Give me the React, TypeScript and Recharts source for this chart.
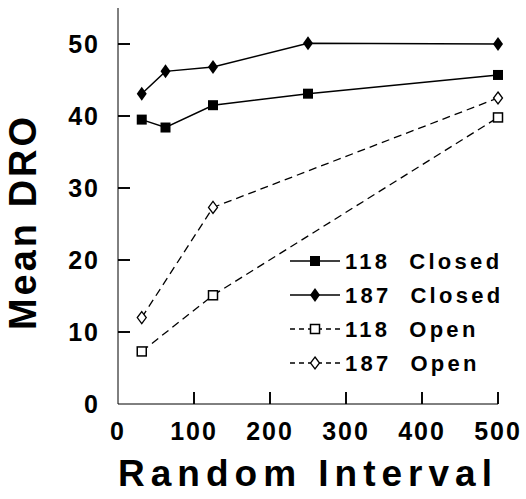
import React from "react"
import { Line, LineChart, ReferenceLine, XAxis, YAxis } from "recharts"

const intervals = [31.25, 62.5, 125, 250, 500]
const openIntervals = [31.25, 125, 500]
const closed118 = [39.5, 38.4, 41.5, 43.1, 45.7]
const closed187 = [43.1, 46.2, 46.8, 50.1, 50.0]
const open118 = [7.3, 15.1, 39.8]
const open187 = [12.0, 27.3, 42.5]
const xTicks = [0, 100, 200, 300, 400, 500]
const yTicks = [0, 10, 20, 30, 40, 50]

const toPoints = (xs: number[], ys: number[]) => xs.map((x, i) => ({ x, y: ys[i] }))

const font = "'Liberation Sans', Arial, sans-serif"
const TICK_GAP = 18
const TICK_LEN = 12
// same inward ticks in data units, as a fallback
const X_TICK_LEN = 1.66
const Y_TICK_LEN = 15.8

function Marker({ cx, cy, kind }: { cx: number; cy: number; kind: string }) {
  if (kind === "fsq") return <rect x={cx - 5} y={cy - 5} width={10} height={10} fill="#000" />
  if (kind === "osq") return <rect x={cx - 4.5} y={cy - 4.5} width={9} height={9} fill="#fff" stroke="#000" strokeWidth={1.5} />
  if (kind === "fdi") return <path d={`M${cx},${cy - 7}L${cx + 5},${cy}L${cx},${cy + 7}L${cx - 5},${cy}Z`} fill="#000" />
  return <path d={`M${cx},${cy - 6}L${cx + 4.5},${cy}L${cx},${cy + 6}L${cx - 4.5},${cy}Z`} fill="#fff" stroke="#000" strokeWidth={1.3} />
}

const dotOf = (kind: string) => (p: any) => <Marker key={`${kind}-${p.index}`} cx={p.cx} cy={p.cy} kind={kind} />

const legendItems = [
  { label: "118  Closed", kind: "fsq", dash: undefined },
  { label: "187  Closed", kind: "fdi", dash: undefined },
  { label: "118  Open", kind: "osq", dash: "5 4" },
  { label: "187  Open", kind: "odi", dash: "5 4" },
]

const titleStyle = { fontFamily: font, fontWeight: "bold" as const, fill: "#000" }

function Overlay() {
  return (
    <svg width={526} height={499} style={{ position: "absolute", left: 0, top: 0, pointerEvents: "none" }}>
      <text x={308} y={486} textAnchor="middle" fontSize={37} letterSpacing={6} {...titleStyle}>
        Random Interval
      </text>
      <text x={23} y={222} transform="rotate(-90 23 222)" textAnchor="middle" dominantBaseline="central" fontSize={38} letterSpacing={3} {...titleStyle}>
        Mean DRO
      </text>
      {legendItems.map((it, i) => {
        const cy = 261 + i * 34
        return (
          <g key={it.label}>
            <line x1={290} x2={340} y1={cy} y2={cy} stroke="#000" strokeWidth={1.5} strokeDasharray={it.dash} />
            <Marker cx={315} cy={cy} kind={it.kind} />
            <text x={345} y={cy + 8} fontSize={22} letterSpacing={3.3} style={{ whiteSpace: "pre" }} {...titleStyle}>
              {it.label}
            </text>
          </g>
        )
      })}
    </svg>
  )
}

const tickText = { fontFamily: font, fontWeight: "bold" as const, fontSize: 25, fill: "#000", letterSpacing: 2 }

function XTick(props: any) {
  const { x, y, payload } = props
  return (
    <g>
      {Number(payload.value) > 0 && <line x1={x} x2={x} y1={y - TICK_GAP} y2={y - TICK_GAP - TICK_LEN} stroke="#000" strokeWidth={1.6} />}
      <text x={x} y={y} dy="0.71em" textAnchor="middle" {...tickText}>
        {payload.value}
      </text>
    </g>
  )
}

function YTick(props: any) {
  const { x, y, payload } = props
  return (
    <g>
      {Number(payload.value) > 0 && <line x1={x + TICK_GAP} x2={x + TICK_GAP + TICK_LEN} y1={y} y2={y} stroke="#000" strokeWidth={1.6} />}
      <text x={x} y={y} dy="0.36em" textAnchor="end" {...tickText}>
        {payload.value}
      </text>
    </g>
  )
}

export default function App() {
  return (
    <div style={{ position: "absolute", left: 0, top: 0, width: 526, height: 499, background: "#fff" }}>
      <LineChart width={526} height={499} margin={{ top: 8, right: 28, bottom: 0, left: 0 }}>
        <XAxis
          type="number"
          dataKey="x"
          domain={[0, 500]}
          ticks={xTicks}
          height={95}
          tickSize={0}
          tickMargin={TICK_GAP}
          tickLine={false}
          stroke="#000"
          tick={<XTick />}
        />
        <YAxis
          type="number"
          dataKey="y"
          domain={[0, 55]}
          ticks={yTicks}
          width={118}
          tickSize={0}
          tickMargin={TICK_GAP}
          tickLine={false}
          stroke="#000"
          tick={<YTick />}
        />
        {xTicks.filter((t) => t > 0).map((t) => (
          <ReferenceLine key={`xt${t}`} segment={[{ x: t, y: 0 }, { x: t, y: X_TICK_LEN }]} stroke="#000" strokeWidth={1.6} ifOverflow="visible" />
        ))}
        {yTicks.filter((t) => t > 0).map((t) => (
          <ReferenceLine key={`yt${t}`} segment={[{ x: 0, y: t }, { x: Y_TICK_LEN, y: t }]} stroke="#000" strokeWidth={1.6} ifOverflow="visible" />
        ))}
        <Line data={toPoints(intervals, closed118)} dataKey="y" stroke="#000" strokeWidth={1.5} dot={dotOf("fsq")} isAnimationActive={false} />
        <Line data={toPoints(intervals, closed187)} dataKey="y" stroke="#000" strokeWidth={1.5} dot={dotOf("fdi")} isAnimationActive={false} />
        <Line data={toPoints(openIntervals, open118)} dataKey="y" stroke="#000" strokeWidth={1.3} strokeDasharray="8 5" dot={dotOf("osq")} isAnimationActive={false} />
        <Line data={toPoints(openIntervals, open187)} dataKey="y" stroke="#000" strokeWidth={1.3} strokeDasharray="8 5" dot={dotOf("odi")} isAnimationActive={false} />
      </LineChart>
      <Overlay />
    </div>
  )
}
